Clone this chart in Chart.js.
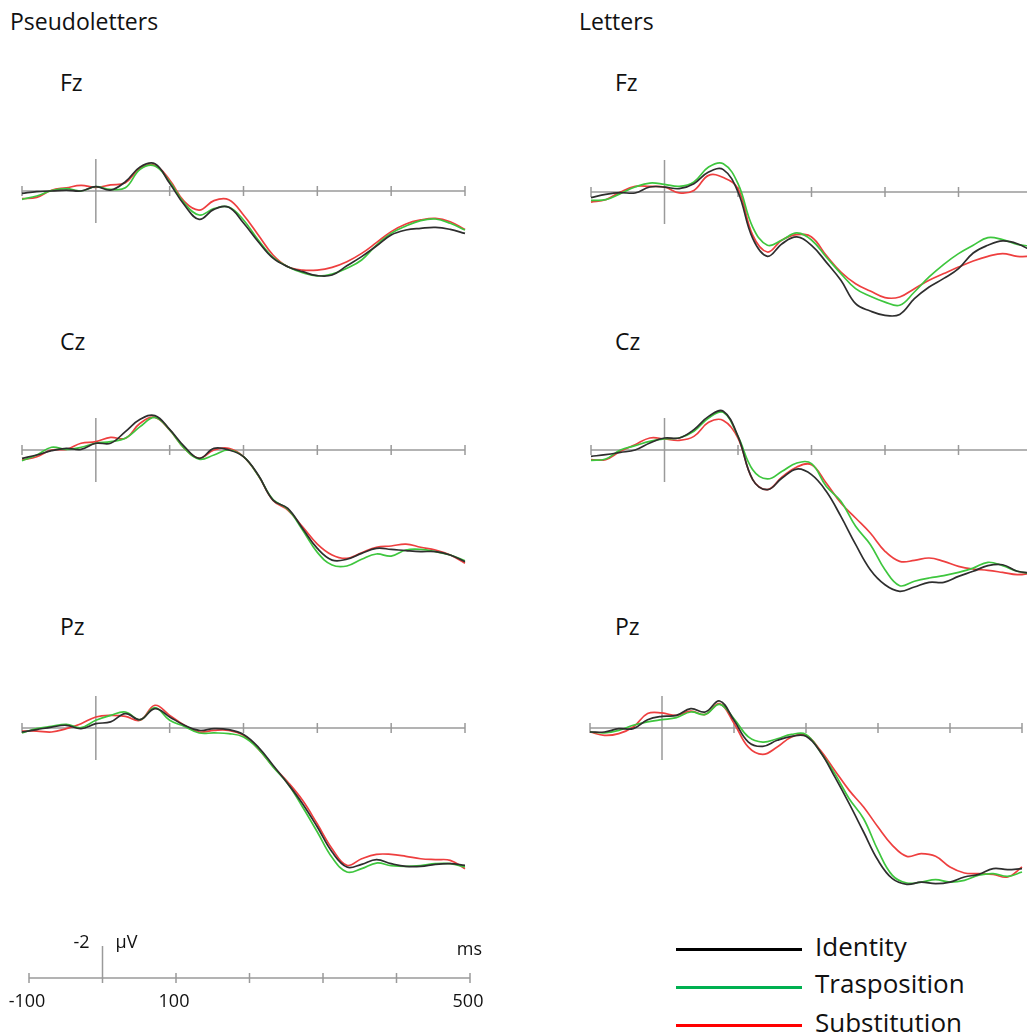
<!DOCTYPE html>
<html>
<head>
<meta charset="utf-8">
<script src="https://cdn.jsdelivr.net/npm/chart.js"></script>
<style>
  html, body { margin: 0; padding: 0; background: #fff; }
  body { width: 1027px; height: 1034px; position: relative; overflow: hidden; font-family: "Open Sans", sans-serif; color: #111; }
  .lbl { position: absolute; line-height: 1; white-space: nowrap; }
  canvas { position: absolute; }
  .key { position: absolute; left: 676px; width: 126px; height: 3px; }
</style>
</head>
<body>
<div class="lbl" style="left:10px;top:10px;font-size:23px">Pseudoletters</div>
<div class="lbl" style="left:579px;top:10px;font-size:23px">Letters</div>
<div class="lbl" style="left:60px;top:71px;font-size:23px">Fz</div>
<div class="lbl" style="left:60px;top:330px;font-size:23px">Cz</div>
<div class="lbl" style="left:60px;top:615px;font-size:23px">Pz</div>
<div class="lbl" style="left:615px;top:71px;font-size:23px">Fz</div>
<div class="lbl" style="left:615px;top:330px;font-size:23px">Cz</div>
<div class="lbl" style="left:615px;top:615px;font-size:23px">Pz</div>

<div class="key" style="top:948px;background:#000"></div>
<div class="key" style="top:986px;background:#00b050"></div>
<div class="key" style="top:1024px;background:#ff0000"></div>
<div class="lbl" style="left:815px;top:933px;font-size:26px">Identity</div>
<div class="lbl" style="left:815px;top:970px;font-size:26px">Trasposition</div>
<div class="lbl" style="left:815px;top:1009px;font-size:26px">Substitution</div>

<script>
// time points (ms) and axis ticks
const times = [-100, -80, -60, -40, -20, 0, 20, 40, 60, 80, 100, 120, 140, 160, 180, 200,
               220, 240, 260, 280, 300, 320, 340, 360, 380, 400, 420, 440, 460, 480, 500];
const timeTicks = [-100, 0, 100, 200, 300, 400, 500];
const scaleTickValues = [-100, 100, 500];
const scaleTickLabels = ['-100', '100', '500'];
const conditions = ['Identity', 'Trasposition', 'Substitution'];

// amplitudes in µV (negative up)
const pseudoFzIdentity      = [0.15, 0.04, 0, -0.06, 0, -0.27, -0.06, -0.58, -1.5, -1.7, -0.48, 0.88, 1.77, 1.15, 1.02, 2.0, 3.17, 4.2, 4.73, 5.04, 5.29, 5.25, 4.67, 4.1, 3.44, 2.75, 2.44, 2.33, 2.27, 2.4, 2.65];
const pseudoFzTransposition = [0.52, 0.31, -0.02, -0.15, 0, -0.27, -0.1, -0.2, -1.35, -1.56, -0.58, 0.77, 1.5, 1.1, 1.0, 1.81, 3.06, 4.15, 4.73, 5.1, 5.31, 5.19, 4.83, 4.31, 3.38, 2.65, 2.19, 1.85, 1.75, 2.02, 2.44];
const pseudoFzSubstitution  = [0.48, 0.4, -0.05, -0.2, -0.35, -0.23, -0.38, -0.52, -1.42, -1.6, -0.69, 0.67, 1.19, 0.6, 0.55, 1.5, 2.75, 4.0, 4.73, 4.94, 4.94, 4.77, 4.42, 3.9, 3.23, 2.54, 2.06, 1.81, 1.71, 1.92, 2.4];

const letFzIdentity      = [0.35, 0.15, 0.04, 0.06, -0.31, -0.31, -0.21, -0.52, -1.25, -1.4, 0, 2.9, 4.02, 3.23, 2.81, 3.33, 4.38, 5.52, 6.98, 7.44, 7.71, 7.65, 6.67, 5.94, 5.4, 4.79, 3.81, 3.33, 3.06, 3.23, 3.69];
const letFzTransposition = [0.52, 0.48, 0.1, -0.31, -0.56, -0.48, -0.35, -0.63, -1.56, -1.77, -0.52, 2.19, 3.33, 3.0, 2.56, 3.0, 4.06, 5.1, 6.04, 6.52, 6.88, 7.08, 6.25, 5.31, 4.52, 3.85, 3.33, 2.85, 2.98, 3.27, 3.4];
const letFzSubstitution  = [0.63, 0.48, 0, -0.35, -0.35, -0.31, 0.05, -0.1, -1.04, -0.9, -0.21, 2.7, 3.75, 3.0, 2.67, 2.81, 3.96, 5.0, 5.73, 6.19, 6.6, 6.56, 6.04, 5.52, 5.1, 4.69, 4.31, 4.02, 3.85, 4.02, 4.02];

const pseudoCzIdentity      = [0.52, 0.31, 0.04, -0.1, -0.04, -0.42, -0.42, -1.15, -1.92, -2.15, -1.29, -0.21, 0.52, -0.1, 0, 0.42, 1.56, 3.13, 3.65, 4.9, 6.15, 6.88, 6.83, 6.46, 6.15, 6.21, 6.29, 6.35, 6.35, 6.56, 6.98];
const pseudoCzTransposition = [0.67, 0.31, -0.17, -0.04, -0.17, -0.42, -0.52, -0.73, -1.46, -2.04, -1.25, -0.1, 0.58, 0.31, 0, 0.42, 1.6, 3.1, 3.7, 5.0, 6.4, 7.19, 7.25, 6.83, 6.5, 6.63, 6.25, 6.21, 6.35, 6.56, 6.92];
const pseudoCzSubstitution  = [0.63, 0.42, 0, -0.04, -0.42, -0.52, -0.79, -0.73, -1.67, -2.04, -1.25, -0.1, 0.52, 0, -0.1, 0.42, 1.6, 3.15, 3.75, 4.8, 5.88, 6.56, 6.77, 6.42, 6.08, 6.0, 5.88, 6.08, 6.25, 6.56, 7.08];

const letCzIdentity      = [0.4, 0.29, 0.15, 0, -0.44, -0.75, -0.75, -1.27, -2.1, -2.42, -0.85, 1.85, 2.48, 1.75, 1.19, 1.54, 2.58, 4.15, 5.9, 7.48, 8.42, 8.83, 8.56, 8.27, 8.27, 7.9, 7.58, 7.23, 7.17, 7.58, 7.69];
const letCzTransposition = [0.65, 0.56, 0, -0.27, -0.54, -0.69, -0.75, -1.17, -2.0, -2.35, -0.85, 1.23, 1.81, 1.33, 0.81, 0.85, 2.27, 3.21, 4.77, 5.9, 7.48, 8.48, 8.2, 8.0, 7.85, 7.65, 7.38, 7.02, 7.23, 7.58, 7.73];
const letCzSubstitution  = [0.6, 0.6, 0.08, -0.33, -0.75, -0.69, -0.6, -0.85, -1.73, -1.85, -0.75, 1.85, 2.48, 1.69, 1.06, 0.92, 2.06, 3.31, 4.25, 5.19, 6.33, 6.96, 6.9, 6.75, 6.96, 7.27, 7.44, 7.52, 7.65, 7.79, 7.69];

const pseudoPzIdentity      = [0.25, 0.1, -0.06, -0.17, 0.04, -0.27, -0.38, -0.9, -0.52, -1.21, -0.69, -0.17, 0.15, 0.04, 0.1, 0.4, 1.19, 2.33, 3.48, 4.73, 6.19, 7.75, 8.69, 8.52, 8.23, 8.48, 8.65, 8.65, 8.52, 8.48, 8.58];
const pseudoPzTransposition = [0.31, 0.04, -0.1, -0.23, -0.02, -0.48, -0.79, -1.0, -0.52, -1.27, -0.48, -0.1, 0.31, 0.31, 0.35, 0.56, 1.3, 2.44, 3.48, 4.94, 6.5, 8.1, 9.0, 8.79, 8.44, 8.6, 8.65, 8.6, 8.48, 8.48, 8.69];
const pseudoPzSubstitution  = [0.19, 0.19, 0.25, 0.04, -0.27, -0.69, -0.79, -0.73, -0.48, -1.42, -0.79, -0.17, 0.25, 0.15, 0.15, 0.46, 1.3, 2.4, 3.38, 4.52, 6.0, 7.54, 8.58, 8.17, 7.9, 7.9, 8.02, 8.17, 8.23, 8.27, 8.79];

const letPzIdentity      = [0.25, 0.25, 0.04, 0.04, -0.52, -0.73, -0.79, -1.21, -1.0, -1.69, -0.48, 0.88, 1.15, 0.77, 0.52, 0.52, 1.5, 3.06, 4.73, 6.5, 8.27, 9.42, 9.77, 9.63, 9.73, 9.63, 9.31, 9.15, 8.79, 8.85, 8.79];
const letPzTransposition = [0.25, 0.31, 0.15, -0.17, -0.38, -0.52, -0.65, -1.0, -0.85, -1.48, -0.58, 0.56, 0.88, 0.67, 0.4, 0.4, 1.5, 2.85, 4.42, 5.67, 7.65, 9.21, 9.69, 9.63, 9.48, 9.63, 9.52, 9.2, 9.1, 9.27, 9.0];
const letPzSubstitution  = [0.25, 0.46, 0.35, -0.06, -0.9, -0.94, -0.79, -1.06, -0.85, -1.52, -0.3, 1.2, 1.65, 1.19, 0.56, 0.46, 1.4, 2.65, 3.9, 4.94, 6.19, 7.33, 8.02, 7.85, 8.02, 8.69, 9.06, 9.1, 9.15, 9.31, 8.69];

const lineColors = ['#2e2e2e', '#3ec63e', '#ee3f3f'];
const AXIS_COLOR = '#9a9a9a';
const PX_PER_UV = 16;
const Y_TOP = -3, Y_BOTTOM = 10.5;
const PAD = 8;

// panel layout: pixel position of -100 ms, 500 ms and the 0 µV line
const panels = [
  { series: [pseudoFzIdentity, pseudoFzTransposition, pseudoFzSubstitution], x0: 21.7, x1: 464.3, zero: 191 },
  { series: [pseudoCzIdentity, pseudoCzTransposition, pseudoCzSubstitution], x0: 21.7, x1: 464.3, zero: 450 },
  { series: [pseudoPzIdentity, pseudoPzTransposition, pseudoPzSubstitution], x0: 21.7, x1: 464.3, zero: 728 },
  { series: [letFzIdentity, letFzTransposition, letFzSubstitution], x0: 590.9, x1: 1031.7, zero: 192 },
  { series: [letCzIdentity, letCzTransposition, letCzSubstitution], x0: 590.9, x1: 1031.7, zero: 450 },
  { series: [letPzIdentity, letPzTransposition, letPzSubstitution], x0: 590, x1: 1021.7, zero: 728 }
];

const erpAxes = {
  id: 'erpAxes',
  beforeDatasetsDraw(chart, args, opts) {
    const { ctx, scales: { x, y } } = chart;
    const y0 = y.getPixelForValue(0);
    const x0 = x.getPixelForValue(0);
    ctx.save();
    ctx.strokeStyle = AXIS_COLOR;
    ctx.lineWidth = 1.5;
    ctx.beginPath();
    ctx.moveTo(x.getPixelForValue(timeTicks[0]), y0);
    ctx.lineTo(x.getPixelForValue(timeTicks[timeTicks.length - 1]), y0);
    timeTicks.forEach(t => {
      const px = x.getPixelForValue(t);
      ctx.moveTo(px, y0 - 5);
      ctx.lineTo(px, y0 + 5);
    });
    ctx.moveTo(x0, y.getPixelForValue(opts.vTop));
    ctx.lineTo(x0, y.getPixelForValue(opts.vBottom));
    ctx.stroke();

    if (opts.scaleText) {
      ctx.fillStyle = '#111';
      ctx.font = '18px "Open Sans"';
      ctx.textBaseline = 'alphabetic';
      ctx.textAlign = 'center';
      scaleTickValues.forEach((v, i) => {
        ctx.fillText(scaleTickLabels[i], x.getPixelForValue(v) - 2, y0 + 29);
      });
      const yTop = y.getPixelForValue(opts.vTop);
      ctx.textAlign = 'right';
      ctx.fillText('-2', x0 - 13, yTop + 2);
      ctx.textAlign = 'left';
      ctx.fillText('µV', x0 + 13, yTop + 2);
      ctx.textAlign = 'right';
      ctx.fillText('ms', x.getPixelForValue(500) + 12, y0 - 23);
    }
    ctx.restore();
  }
};
Chart.register(erpAxes);

function makeCanvas(left, top, width, height) {
  const c = document.createElement('canvas');
  c.width = Math.round(width);
  c.height = Math.round(height);
  c.style.left = Math.round(left) + 'px';
  c.style.top = Math.round(top) + 'px';
  c.style.width = c.width + 'px';
  c.style.height = c.height + 'px';
  document.body.appendChild(c);
  return c;
}

function baseOptions(yMin, yMax, padding, axesOpts) {
  return {
    responsive: false,
    animation: false,
    events: [],
    layout: { padding: padding },
    scales: {
      x: { type: 'linear', min: -100, max: 500, display: false },
      y: { type: 'linear', min: yMin, max: yMax, reverse: true, display: false }
    },
    plugins: {
      legend: { display: false },
      tooltip: { enabled: false },
      erpAxes: axesOpts
    }
  };
}

panels.forEach(p => {
  const span = p.x1 - p.x0;
  const h = (Y_BOTTOM - Y_TOP) * PX_PER_UV;
  const canvas = makeCanvas(p.x0 - PAD, p.zero + Y_TOP * PX_PER_UV - PAD, span + 2 * PAD, h + 2 * PAD);
  new Chart(canvas, {
    type: 'line',
    data: {
      datasets: p.series.map((vals, i) => ({
        label: conditions[i],
        data: times.map((t, k) => ({ x: t, y: vals[k] })),
        borderColor: lineColors[i],
        borderWidth: 1.7,
        pointRadius: 0,
        tension: 0.4,
        fill: false,
        clip: false
      }))
    },
    options: baseOptions(Y_TOP, Y_BOTTOM, PAD, { vTop: -2, vBottom: 2 })
  });
});

// time / amplitude scale bar
(function () {
  const x0 = 29.3, x1 = 470.3, zero = 978;
  const yMin = -2.5, yMax = 0.5;
  const pad = { left: 30, right: 30, top: 20, bottom: 36 };
  const canvas = makeCanvas(x0 - pad.left, zero + yMin * PX_PER_UV - pad.top,
    (x1 - x0) + pad.left + pad.right, (yMax - yMin) * PX_PER_UV + pad.top + pad.bottom);
  new Chart(canvas, {
    type: 'line',
    data: { datasets: [] },
    options: baseOptions(yMin, yMax, pad, { vTop: -2, vBottom: 0.25, scaleText: true })
  });
})();
</script>
</body>
</html>
